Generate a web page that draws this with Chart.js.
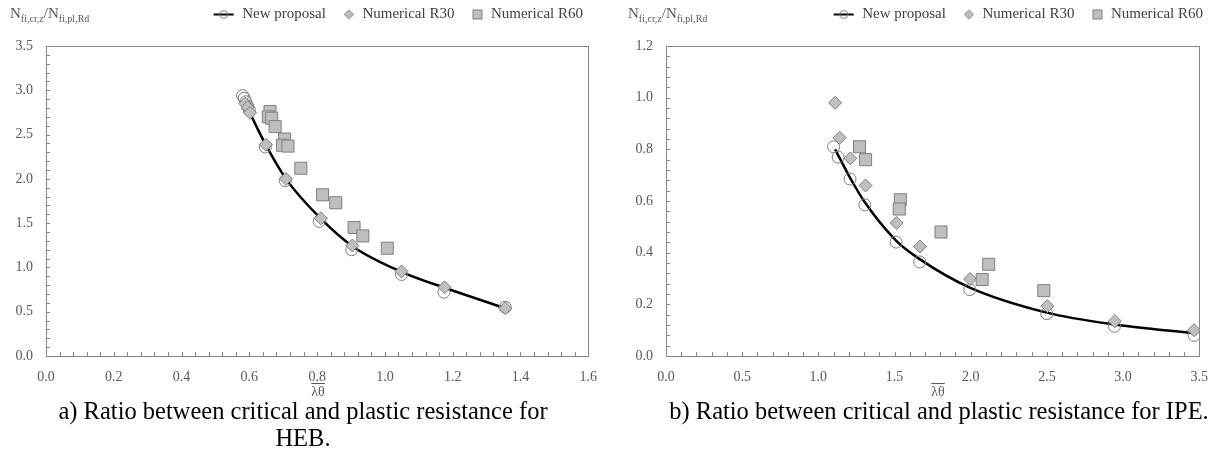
<!DOCTYPE html>
<html>
<head>
<meta charset="utf-8">
<script src="https://cdn.jsdelivr.net/npm/chart.js@4.4.0/dist/chart.umd.min.js"></script>
<style>
  body { margin: 0; background: #fff; width: 1221px; height: 459px; overflow: hidden; position: relative;
         font-family: "Liberation Serif", "Times New Roman", serif; }
  .box { position: absolute; top: 0; height: 400px; }
  .ytitle { position: absolute; top: 5px; font-size: 15px; color: #595959; white-space: nowrap; }
  .ytitle sub { font-size: 10px; }
  .xtitle { position: absolute; top: 384px; font-size: 14px; color: #595959; transform: translateX(-50%); }
  .xtitle span { text-decoration: overline; }
  .cap { position: absolute; top: 397px; font-size: 24.5px; line-height: 27px; color: #000; text-align: center; transform: translateX(-50%); white-space: nowrap; }
</style>
</head>
<body>
<div class="box" style="left:0;width:610px"><canvas id="heb-chart"></canvas></div>
<div class="box" style="left:610px;width:611px"><canvas id="ipe-chart"></canvas></div>

<div class="ytitle" style="left:10px">N<sub>fi,cr,z</sub>/N<sub>fi,pl,Rd</sub></div>
<div class="ytitle" style="left:628px">N<sub>fi,cr,z</sub>/N<sub>fi,pl,Rd</sub></div>
<div class="xtitle" style="left:318px"><span>λθ</span></div>
<div class="xtitle" style="left:938px"><span>λθ</span></div>
<div class="cap" style="left:303px">a) Ratio between critical and plastic resistance for<br>HEB.</div>
<div class="cap" style="left:939px">b) Ratio between critical and plastic resistance for IPE.</div>

<script>
// HEB (left panel)
var hebLineX = [0.602, 0.649, 0.708, 0.811, 0.904, 1.049, 1.176, 1.355];
var hebLineY = [2.74, 2.38, 2.00, 1.55, 1.24, 0.95, 0.77, 0.54];
var hebNewX = [0.580, 0.585, 0.590, 0.595, 0.600, 0.647, 0.706, 0.806, 0.902, 1.049, 1.174, 1.355];
var hebNewY = [2.94, 2.91, 2.87, 2.82, 2.78, 2.36, 1.98, 1.52, 1.20, 0.92, 0.72, 0.55];
var hebR30X = [0.588, 0.595, 0.602, 0.649, 0.708, 0.811, 0.904, 1.049, 1.176, 1.355];
var hebR30Y = [2.85, 2.81, 2.745, 2.385, 2.00, 1.554, 1.247, 0.955, 0.775, 0.54];
var hebR60X = [0.661, 0.656, 0.666, 0.676, 0.704, 0.698, 0.714, 0.752, 0.816, 0.855, 0.909, 0.935, 1.007];
var hebR60Y = [2.76, 2.70, 2.685, 2.59, 2.45, 2.38, 2.37, 2.12, 1.82, 1.73, 1.45, 1.356, 1.217];

// IPE (right panel)
var ipeLineX = [1.11, 1.208, 1.305, 1.51, 1.665, 1.994, 2.50, 2.944, 3.466];
var ipeLineY = [0.80, 0.69, 0.595, 0.447, 0.375, 0.265, 0.168, 0.122, 0.088];
var ipeNewX = [1.10, 1.13, 1.208, 1.305, 1.51, 1.665, 1.994, 2.499, 2.944, 3.466];
var ipeNewY = [0.81, 0.77, 0.685, 0.585, 0.441, 0.364, 0.257, 0.164, 0.115, 0.08];
var ipeR30X = [1.11, 1.14, 1.21, 1.31, 1.514, 1.667, 1.996, 2.503, 2.946, 3.466];
var ipeR30Y = [0.98, 0.845, 0.765, 0.66, 0.515, 0.424, 0.298, 0.193, 0.135, 0.0997];
var ipeR60X = [1.27, 1.31, 1.538, 1.531, 1.805, 2.118, 2.075, 2.48];
var ipeR60Y = [0.81, 0.76, 0.605, 0.569, 0.48, 0.355, 0.296, 0.253];

var markFill = '#bfbfbf';
var markEdge = '#7f7f7f';
var tickColor = '#595959';
var serif = '"Liberation Serif", "Times New Roman", serif';

function pts(xs, ys) {
  var out = [];
  for (let i = 0; i < xs.length; i++) {
    out.push({ x: xs[i], y: ys[i] });
  }
  return out;
}

function legendIcon(kind) {
  var c = document.createElement('canvas');
  c.width = 22; c.height = 12;
  var g = c.getContext('2d');
  if (kind == 'line') {
    g.strokeStyle = '#000'; g.lineWidth = 2;
    g.beginPath(); g.moveTo(1, 6); g.lineTo(21, 6); g.stroke();
    g.strokeStyle = markEdge; g.lineWidth = 1;
    g.beginPath(); g.arc(11, 6, 4, 0, Math.PI * 2); g.stroke();
  } else if (kind == 'diamond') {
    g.fillStyle = markFill; g.strokeStyle = markEdge; g.lineWidth = 1;
    g.beginPath(); g.moveTo(16, 1.5); g.lineTo(20.5, 6); g.lineTo(16, 10.5); g.lineTo(11.5, 6); g.closePath();
    g.fill(); g.stroke();
  } else {
    g.fillStyle = markFill; g.strokeStyle = markEdge; g.lineWidth = 1;
    g.fillRect(11.5, 1.5, 9, 9); g.strokeRect(11.5, 1.5, 9, 9);
  }
  return c;
}

// frame round the plot area plus inward minor ticks on x and y
var frameTicks = {
  id: 'frameTicks',
  beforeDatasetsDraw(chart, args, opts) {
    const a = chart.chartArea;
    const ctx = chart.ctx;
    const xs = chart.scales.x, ys = chart.scales.y;
    ctx.save();
    ctx.strokeStyle = '#868686';
    ctx.lineWidth = 1;
    ctx.strokeRect(Math.round(a.left) + 0.5, Math.round(a.top) + 0.5,
                   Math.round(a.right - a.left), Math.round(a.bottom - a.top));
    ctx.beginPath();
    let n = Math.round((xs.max - xs.min) / opts.xStep);
    for (let i = 1; i < n; i++) {
      let px = Math.round(xs.getPixelForValue(xs.min + i * opts.xStep)) + 0.5;
      ctx.moveTo(px, a.bottom); ctx.lineTo(px, a.bottom - 4);
    }
    n = Math.round((ys.max - ys.min) / opts.yStep);
    for (let i = 1; i < n; i++) {
      let py = Math.round(ys.getPixelForValue(ys.min + i * opts.yStep)) + 0.5;
      ctx.moveTo(a.left, py); ctx.lineTo(a.left + 4, py);
    }
    ctx.stroke();
    ctx.restore();
  }
};

function panelChart(id, d, cfg) {
  const ctx = document.getElementById(id);
  return new Chart(ctx, {
    type: 'scatter',
    data: {
      datasets: [{
        type: 'line',
        label: 'New proposal',
        data: pts(d.lineX, d.lineY),
        borderColor: '#000',
        borderWidth: 2.5,
        pointRadius: 0,
        cubicInterpolationMode: 'monotone',
        pointStyle: legendIcon('line'),
        order: 4
      }, {
        label: '',
        data: pts(d.newX, d.newY),
        pointStyle: 'circle',
        pointRadius: 6,
        backgroundColor: 'rgba(255,255,255,0)',
        borderColor: markEdge,
        borderWidth: 1,
        order: 3
      }, {
        label: 'Numerical R30',
        data: pts(d.r30X, d.r30Y),
        pointStyle: 'rectRot',
        pointRadius: 6.5,
        backgroundColor: markFill,
        borderColor: markEdge,
        borderWidth: 1,
        order: 2
      }, {
        label: 'Numerical R60',
        data: pts(d.r60X, d.r60Y),
        pointStyle: 'rect',
        pointRadius: 8.5,
        backgroundColor: markFill,
        borderColor: markEdge,
        borderWidth: 1,
        order: 1
      }]
    },
    options: {
      responsive: false,
      animation: false,
      layout: { padding: { left: 0, right: cfg.padRight, top: 0, bottom: 0 } },
      scales: {
        x: {
          type: 'linear', min: 0, max: cfg.xMax,
          grid: { display: false, drawTicks: false },
          border: { display: false },
          ticks: { stepSize: cfg.xMajor, padding: 13, color: tickColor, font: { family: serif, size: 14 },
                   callback: (v) => v.toFixed(1), maxRotation: 0 },
          afterFit: (s) => { s.height = 44; }
        },
        y: {
          type: 'linear', min: 0, max: cfg.yMax,
          grid: { display: false, drawTicks: false },
          border: { display: false },
          ticks: { stepSize: cfg.yMajor, padding: 13, color: tickColor, font: { family: serif, size: 14 },
                   callback: (v) => v.toFixed(1) },
          afterFit: (s) => { s.width = cfg.yWidth; }
        }
      },
      plugins: {
        legend: {
          position: 'top',
          align: 'end',
          weight: 3000,
          labels: {
            usePointStyle: true,
            pointStyleWidth: 22,
            padding: 7,
            color: '#404040',
            font: { family: serif, size: 15 },
            filter: (item) => item.text !== '',
            sort: (a, b) => a.datasetIndex - b.datasetIndex,
            generateLabels: (chart) => {
              let items = Chart.defaults.plugins.legend.labels.generateLabels(chart);
              let icons = { 'New proposal': 'line', 'Numerical R30': 'diamond', 'Numerical R60': 'square' };
              items.forEach((it) => { if (icons[it.text]) it.pointStyle = legendIcon(icons[it.text]); });
              return items;
            }
          }
        },
        title: { display: true, text: '', padding: 0, font: { size: 14, lineHeight: 1 } },
        tooltip: { enabled: false },
        frameTicks: { xStep: cfg.xMinor, yStep: cfg.yMinor }
      }
    },
    plugins: [frameTicks]
  });
}

document.getElementById('heb-chart').width = 610;
document.getElementById('heb-chart').height = 400;
document.getElementById('ipe-chart').width = 611;
document.getElementById('ipe-chart').height = 400;

panelChart('heb-chart',
  { lineX: hebLineX, lineY: hebLineY, newX: hebNewX, newY: hebNewY,
    r30X: hebR30X, r30Y: hebR30Y, r60X: hebR60X, r60Y: hebR60Y },
  { xMax: 1.6, xMajor: 0.2, xMinor: 0.04, yMax: 3.5, yMajor: 0.5, yMinor: 0.1, yWidth: 46, padRight: 20 });

panelChart('ipe-chart',
  { lineX: ipeLineX, lineY: ipeLineY, newX: ipeNewX, newY: ipeNewY,
    r30X: ipeR30X, r30Y: ipeR30Y, r60X: ipeR60X, r60Y: ipeR60Y },
  { xMax: 3.5, xMajor: 0.5, xMinor: 0.1, yMax: 1.2, yMajor: 0.2, yMinor: 0.04, yWidth: 56, padRight: 11 });
</script>
</body>
</html>
